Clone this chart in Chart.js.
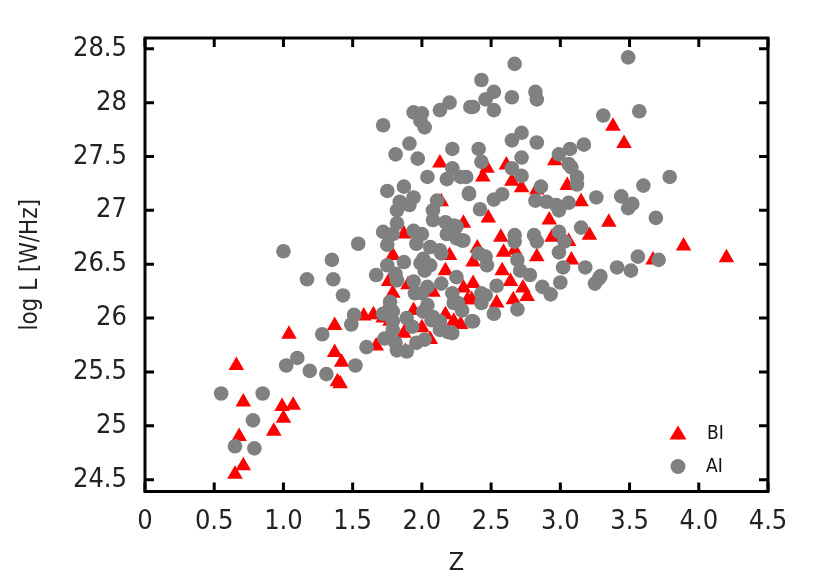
<!DOCTYPE html>
<html>
<head>
<meta charset="utf-8">
<script src="https://cdn.jsdelivr.net/npm/chart.js@4/dist/chart.umd.min.js"></script>
<style>
  body { margin: 0; background: #fff; }
</style>
</head>
<body>
<canvas id="myChart" width="830" height="588"></canvas>
<script>
const xTicks = [0, 0.5, 1, 1.5, 2, 2.5, 3, 3.5, 4, 4.5];
const xTickLabels = ['0', '0.5', '1.0', '1.5', '2.0', '2.5', '3.0', '3.5', '4.0', '4.5'];
const yTicks = [24.5, 25, 25.5, 26, 26.5, 27, 27.5, 28, 28.5];
const yTickLabels = ['24.5', '25', '25.5', '26', '26.5', '27', '27.5', '28', '28.5'];

// BI (red triangles)
const biZ = [0.66, 0.71, 0.68, 0.71, 0.65, 0.99, 1.07, 1.00, 0.93, 1.04,
    1.37, 1.37, 1.42, 1.39, 1.41, 1.58, 1.65, 1.67, 1.76, 1.79,
    1.88, 1.79, 2.17, 2.20, 2.08, 2.23, 1.94, 2.17, 2.00, 2.06,
    1.87, 1.77, 2.33, 2.13, 1.87, 2.30, 2.14, 3.38, 3.46, 2.96,
    2.61, 2.47, 2.44, 2.65, 2.72, 2.83, 3.05, 3.15, 2.48, 2.92,
    3.35, 3.21, 3.06, 2.94, 2.57, 3.89, 4.20, 3.67, 2.40, 2.59,
    2.67, 2.83, 3.08, 2.37, 2.73, 2.76, 2.64, 2.58, 2.37, 2.36,
    2.66, 2.54, 2.28, 2.30, 1.90, 1.77, 1.89, 1.72];
const biL = [25.56, 25.22, 24.90, 24.63, 24.55, 25.18, 25.19, 25.07, 24.95, 25.85,
    25.93, 25.68, 25.59, 25.41, 25.39, 26.02, 26.03, 25.74, 26.34, 26.23,
    25.69, 26.58, 26.44, 26.58, 26.24, 25.97, 26.07, 26.03, 25.91, 25.80,
    25.86, 26.14, 26.17, 27.44, 26.78, 26.88, 27.08, 27.78, 27.62, 27.46,
    27.42, 27.39, 27.31, 27.27, 27.21, 27.19, 27.23, 27.08, 26.93, 26.91,
    26.89, 26.77, 26.71, 26.75, 26.75, 26.67, 26.56, 26.54, 26.65, 26.61,
    26.63, 26.57, 26.54, 26.52, 26.28, 26.20, 26.34, 26.44, 26.32, 26.17,
    26.17, 26.14, 25.94, 26.28, 26.31, 25.97, 25.90, 26.00];

// AI (grey circles)
const aiZ = [0.55, 0.85, 0.78, 0.65, 0.79, 1.02, 1.10, 1.19, 1.31, 1.52,
    1.43, 1.28, 1.17, 1.36, 1.35, 1.00, 1.51, 1.49, 1.60, 1.67,
    1.75, 1.82, 1.87, 1.94, 1.73, 1.82, 1.79, 1.72, 1.79, 1.89,
    1.93, 1.96, 2.02, 2.01, 2.08, 2.13, 2.19, 2.00, 2.04, 2.14,
    2.22, 2.26, 2.25, 2.01, 2.06, 2.14, 2.36, 1.72, 1.94, 2.00,
    1.99, 2.02, 2.13, 2.20, 2.35, 1.91, 1.81, 1.97, 2.22, 2.04,
    2.22, 2.18, 2.28, 2.34, 1.75, 1.87, 1.94, 1.84, 1.91, 1.82,
    2.11, 2.08, 2.08, 2.17, 2.25, 1.82, 1.72, 1.79, 1.75, 1.94,
    2.00, 1.96, 2.06, 2.13, 2.18, 2.29, 1.54, 2.67, 2.43, 2.52,
    2.46, 2.37, 2.52, 2.65, 2.82, 2.83, 3.49, 3.31, 3.57, 2.72,
    2.65, 2.83, 2.41, 2.72, 2.43, 2.65, 2.72, 2.99, 3.07, 3.17,
    3.06, 3.08, 3.12, 3.12, 2.32, 2.34, 2.52, 2.58, 2.42, 2.86,
    2.82, 2.90, 2.97, 3.06, 3.26, 3.44, 3.52, 3.49, 3.60, 3.79,
    3.69, 3.15, 2.99, 2.67, 2.81, 2.83, 2.67, 2.99, 3.56, 3.71,
    2.30, 3.18, 3.41, 3.51, 3.29, 3.02, 3.28, 3.25, 3.00, 2.87,
    2.93, 2.78, 2.71, 2.69, 2.54, 2.46, 2.46, 2.43, 2.52, 2.69,
    2.37, 2.29, 2.47, 2.43, 2.23, 2.22, 2.99, 2.23, 2.25, 3.03,
    2.41, 1.81, 1.99, 2.02, 1.95, 1.77, 1.79, 2.04, 2.07, 2.13,
    1.81, 1.89];
const aiL = [25.30, 25.30, 25.05, 24.81, 24.79, 25.56, 25.63, 25.51, 25.48, 25.56,
    26.21, 25.85, 26.36, 26.36, 26.54, 26.62, 26.03, 25.94, 25.73, 26.40,
    26.49, 26.35, 26.52, 26.34, 25.81, 25.70, 25.89, 26.04, 26.06, 26.00,
    25.92, 25.77, 25.80, 26.06, 26.01, 25.97, 25.87, 26.23, 26.29, 26.32,
    26.23, 26.14, 26.38, 26.55, 26.49, 26.60, 25.97, 27.79, 27.91, 27.90,
    27.83, 27.77, 27.93, 28.00, 27.96, 27.62, 27.52, 27.48, 27.57, 27.31,
    27.39, 27.29, 27.31, 27.15, 27.18, 27.22, 27.12, 27.08, 27.05, 27.00,
    27.09, 27.00, 26.91, 26.89, 26.85, 26.88, 26.80, 26.78, 26.68, 26.81,
    26.78, 26.69, 26.66, 26.63, 26.78, 26.72, 26.69, 28.36, 28.21, 28.10,
    28.03, 27.96, 27.93, 28.05, 28.10, 28.03, 28.42, 27.88, 27.92, 27.72,
    27.65, 27.63, 27.57, 27.49, 27.45, 27.39, 27.32, 27.52, 27.57, 27.61,
    27.43, 27.40, 27.31, 27.24, 27.31, 27.16, 27.10, 27.15, 27.01, 27.22,
    27.09, 27.08, 27.05, 27.07, 27.12, 27.13, 27.06, 27.02, 27.23, 27.31,
    26.93, 26.84, 26.80, 26.77, 26.77, 26.71, 26.71, 26.61, 26.57, 26.54,
    26.72, 26.47, 26.47, 26.44, 26.39, 26.47, 26.37, 26.32, 26.33, 26.29,
    26.22, 26.40, 26.44, 26.54, 26.30, 26.57, 26.21, 26.14, 26.04, 26.08,
    25.97, 26.07, 26.49, 26.23, 26.14, 25.86, 27.00, 26.86, 26.74, 26.71,
    26.60, 26.41, 26.51, 26.44, 26.23, 26.15, 25.97, 26.12, 25.98, 25.89,
    25.77, 25.69];

const RED = '#ff0000';
const GREY = '#808080';
const FONT = '"DejaVu Sans Condensed", "DejaVu Sans", sans-serif';

function toPoints(xs, ys) {
    return xs.map(function (v, i) { return { x: v, y: ys[i] }; });
}

// box frame with inward ticks + legend in the lower right corner
const framePlugin = {
    id: 'frame',
    afterDatasetsDraw(chart) {
        const ctx = chart.ctx;
        const a = chart.chartArea;
        const sx = chart.scales.x;
        const sy = chart.scales.y;
        const len = 9;
        ctx.save();
        ctx.strokeStyle = '#000';
        ctx.lineWidth = 3;
        ctx.strokeRect(a.left, a.top, a.right - a.left, a.bottom - a.top);
        ctx.beginPath();
        xTicks.forEach(function (v) {
            const px = sx.getPixelForValue(v);
            ctx.moveTo(px, a.bottom); ctx.lineTo(px, a.bottom - len);
            ctx.moveTo(px, a.top); ctx.lineTo(px, a.top + len);
        });
        yTicks.forEach(function (v) {
            const py = sy.getPixelForValue(v);
            ctx.moveTo(a.left, py); ctx.lineTo(a.left + len, py);
            ctx.moveTo(a.right, py); ctx.lineTo(a.right - len, py);
        });
        ctx.stroke();

        // legend
        const cx = a.right - 90;
        const y1 = a.bottom - 58;
        const y2 = a.bottom - 25;
        ctx.fillStyle = RED;
        ctx.beginPath();
        ctx.moveTo(cx, y1 - 8);
        ctx.lineTo(cx + 8.5, y1 + 6);
        ctx.lineTo(cx - 8.5, y1 + 6);
        ctx.closePath();
        ctx.fill();
        ctx.fillStyle = GREY;
        ctx.beginPath();
        ctx.arc(cx, y2, 7.5, 0, Math.PI * 2);
        ctx.fill();
        ctx.fillStyle = '#111';
        ctx.font = '19px ' + FONT;
        ctx.textBaseline = 'middle';
        ctx.textAlign = 'left';
        ctx.fillText(chart.data.datasets[0].label, cx + 29, y1 + 1);
        ctx.fillText(chart.data.datasets[1].label, cx + 28, y2 + 1);
        ctx.restore();
    }
};

const ctx = document.getElementById('myChart').getContext('2d');
const myChart = new Chart(ctx, {
    type: 'scatter',
    data: {
        datasets: [{
            label: 'BI',
            data: toPoints(biZ, biL),
            pointStyle: 'triangle',
            pointRadius: 9,
            backgroundColor: RED,
            borderColor: RED,
            borderWidth: 0,
            order: 1
        }, {
            label: 'AI',
            data: toPoints(aiZ, aiL),
            pointStyle: 'circle',
            pointRadius: 7.3,
            backgroundColor: GREY,
            borderColor: GREY,
            borderWidth: 0,
            order: 0
        }]
    },
    options: {
        responsive: false,
        animation: false,
        layout: {
            padding: { left: 0, right: 62, top: 38, bottom: 0 }
        },
        plugins: {
            legend: { display: false },
            tooltip: { enabled: false }
        },
        scales: {
            x: {
                type: 'linear',
                min: 0,
                max: 4.5,
                afterBuildTicks: function (scale) {
                    scale.ticks = xTicks.map(function (v) { return { value: v }; });
                },
                afterFit: function (scale) { scale.height = 96.5; },
                grid: { display: false, drawTicks: false },
                border: { display: false },
                ticks: {
                    autoSkip: false,
                    maxRotation: 0,
                    padding: 14,
                    color: '#222',
                    font: { family: FONT, size: 27 },
                    callback: function (v, i) { return xTickLabels[i]; }
                },
                title: {
                    display: true,
                    text: 'Z',
                    color: '#222',
                    font: { family: FONT, size: 25 },
                    padding: { top: 0, bottom: 10 }
                }
            },
            y: {
                min: 24.39,
                max: 28.6,
                afterBuildTicks: function (scale) {
                    scale.ticks = yTicks.map(function (v) { return { value: v }; });
                },
                afterFit: function (scale) { scale.width = 145; },
                grid: { display: false, drawTicks: false },
                border: { display: false },
                ticks: {
                    padding: 18,
                    color: '#222',
                    font: { family: FONT, size: 27 },
                    callback: function (v, i) { return yTickLabels[i]; }
                },
                title: {
                    display: true,
                    text: 'log L [W/Hz]',
                    color: '#222',
                    font: { family: FONT, size: 24 },
                    padding: { top: 16, bottom: 0 }
                }
            }
        }
    },
    plugins: [framePlugin]
});
</script>
</body>
</html>
